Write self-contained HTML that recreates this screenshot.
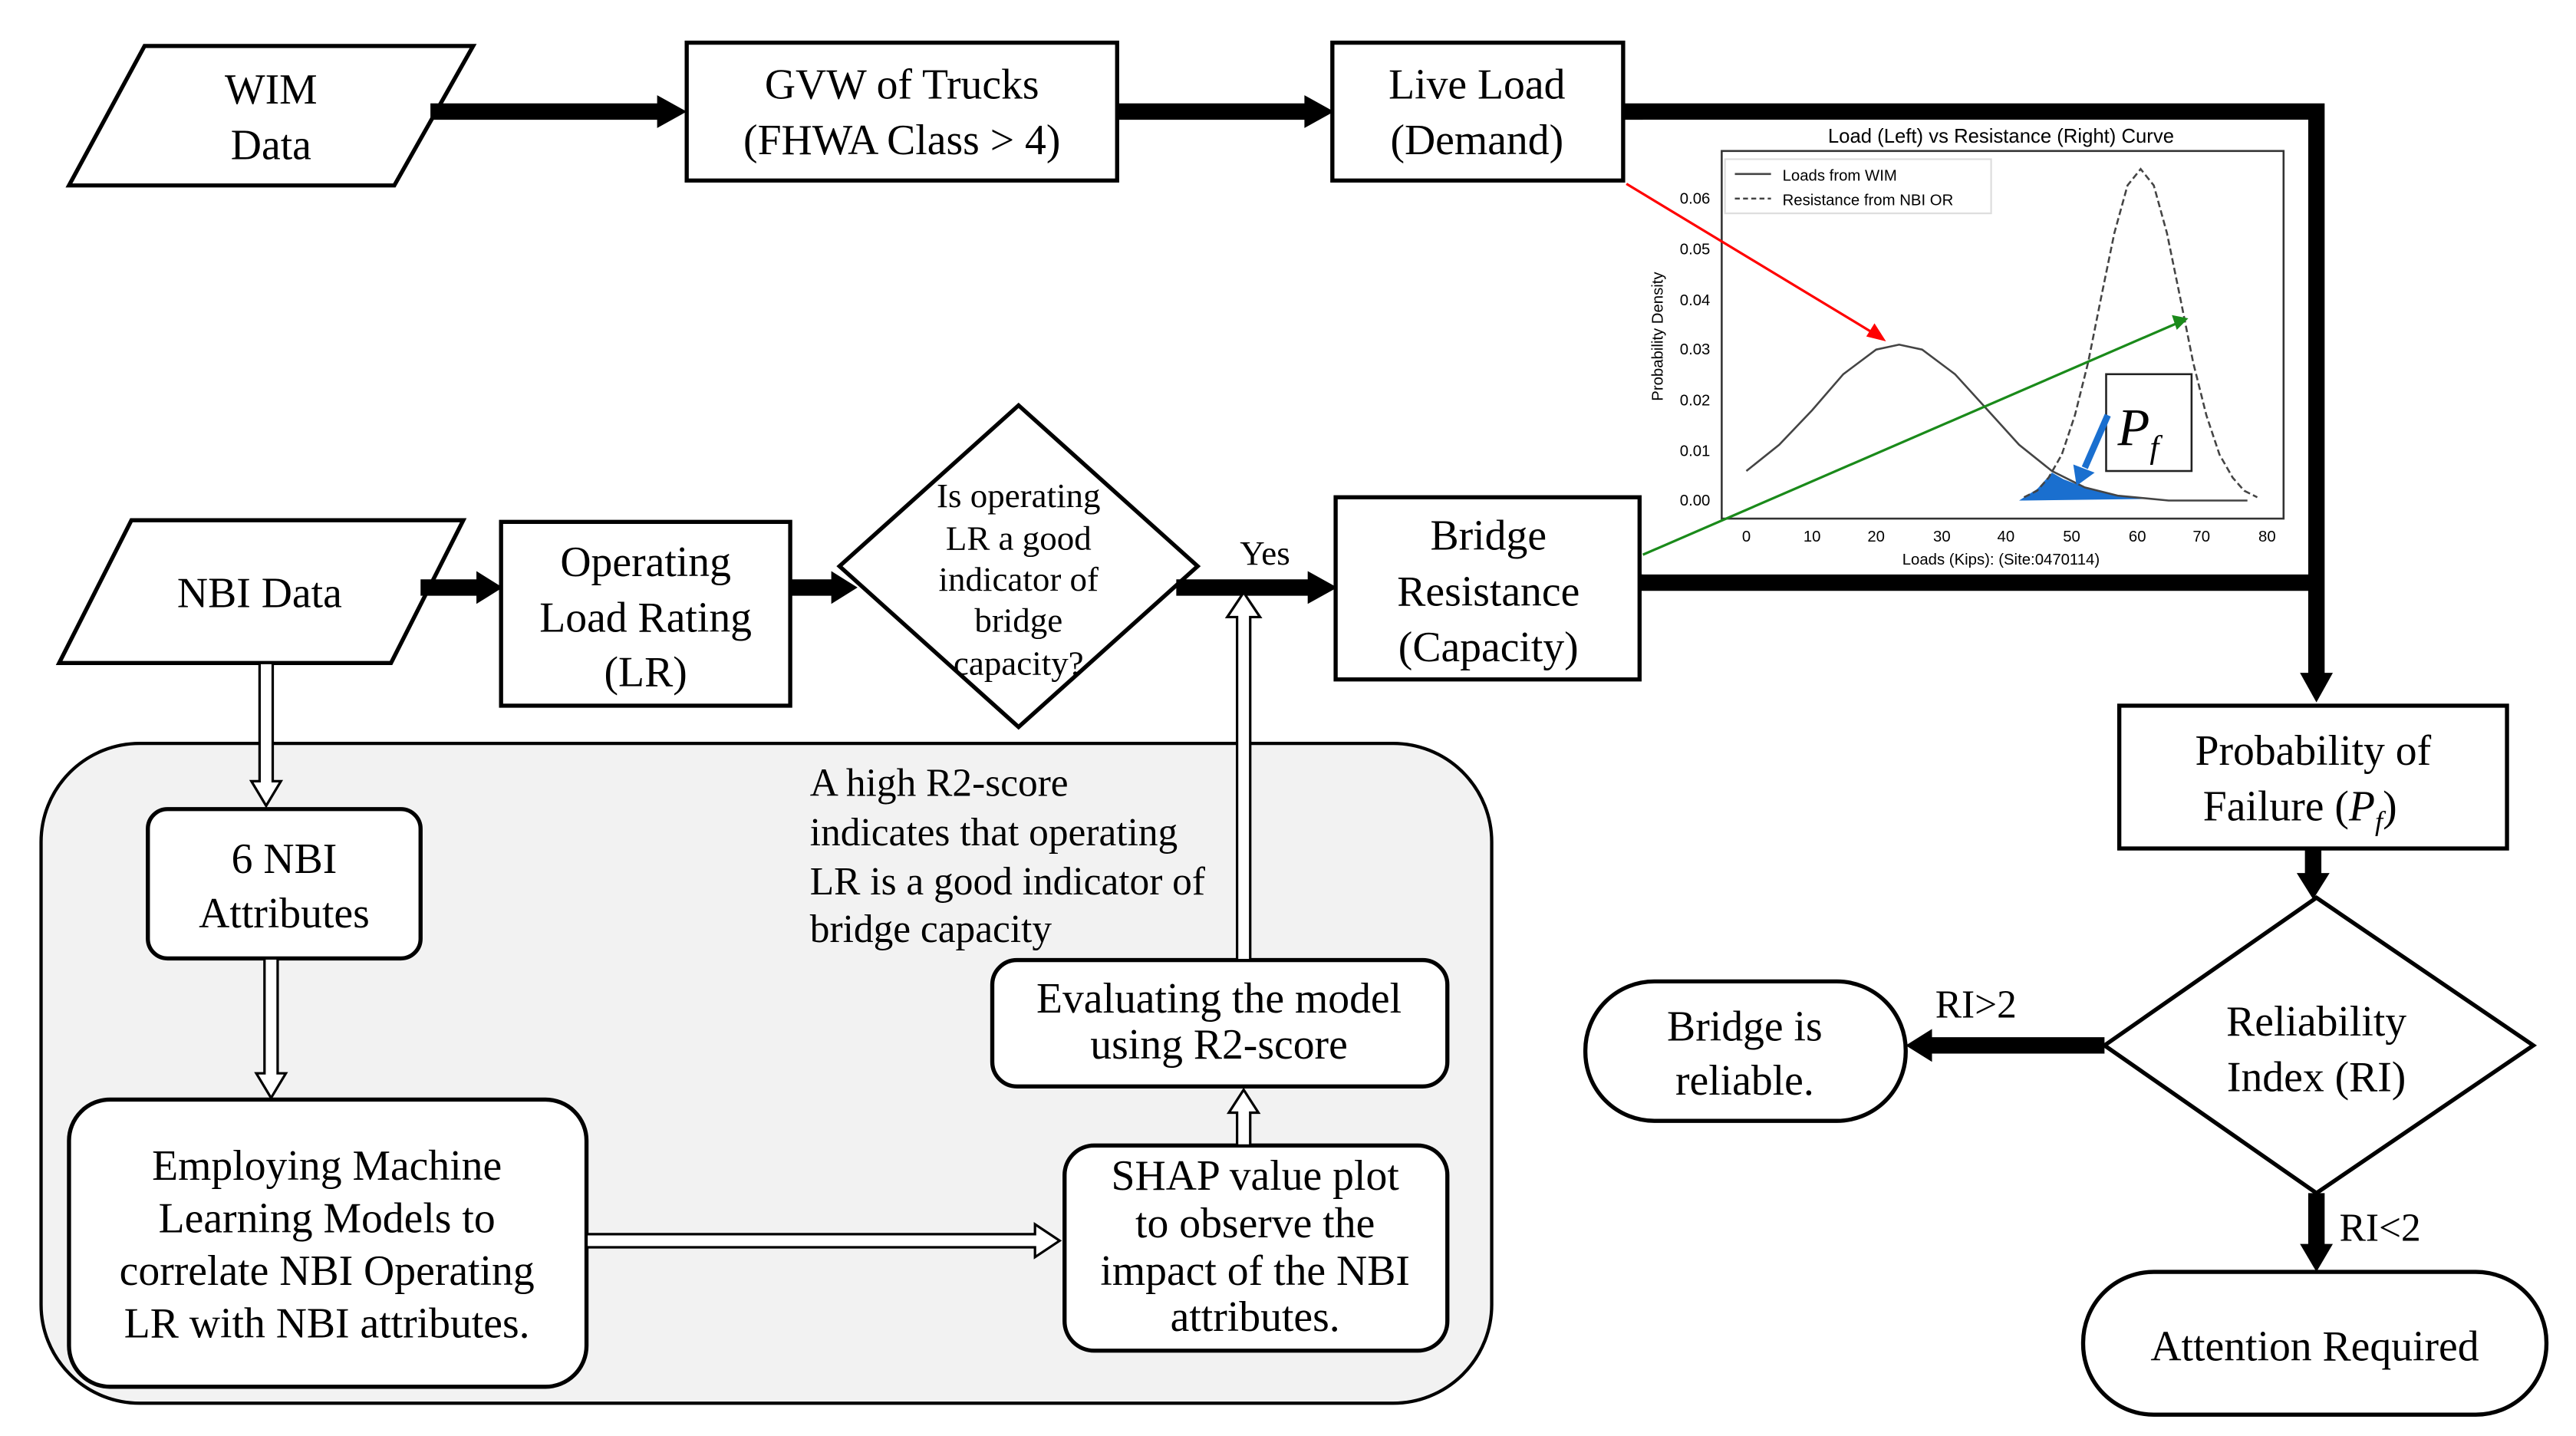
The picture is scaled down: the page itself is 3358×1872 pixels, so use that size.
<!DOCTYPE html>
<html><head><meta charset="utf-8"><style>html,body{margin:0;padding:0;background:#fff}svg{display:block}</style></head>
<body>
<svg width="3358" height="1872" viewBox="0 0 1568 875" preserveAspectRatio="none" xmlns="http://www.w3.org/2000/svg" font-family="'Liberation Serif', serif">
<rect width="1568" height="875" fill="#fff"/>
<!-- gray region -->
<rect x="25" y="453" width="883" height="402" rx="60" fill="#f2f2f2" stroke="#000" stroke-width="2"/>

<g fill="none" stroke="#000" stroke-width="2.5">
<polygon points="88,28 288,28 240,113 42,113" fill="#fff"/>
<rect x="418" y="26" width="262" height="84" fill="#fff"/>
<rect x="811" y="26" width="177" height="84" fill="#fff"/>
<polygon points="80,317 282,317 238,404 36,404" fill="#fff"/>
<rect x="305" y="318" width="176" height="112" fill="#fff"/>
<polygon points="620,247 729,345 620,443 511,345" fill="#fff"/>
<rect x="813" y="303" width="185" height="111" fill="#fff"/>
<rect x="1290" y="430" width="236" height="87" fill="#fff"/>
<polygon points="1410,547 1542,637 1410,727 1281,637" fill="#fff"/>
<rect x="965" y="598" width="195" height="85" rx="42" fill="#fff"/>
<rect x="1268" y="775" width="282" height="87" rx="43" fill="#fff"/>
<rect x="90" y="493" width="166" height="91" rx="12" fill="#fff"/>
<rect x="42" y="670" width="315" height="175" rx="25" fill="#fff"/>
<rect x="648" y="698" width="233" height="125" rx="18" fill="#fff"/>
<rect x="604" y="585" width="277" height="77" rx="15" fill="#fff"/>
</g>

<!-- thick connectors -->
<g stroke="#000" stroke-width="10" fill="none">
<line x1="262" y1="68" x2="402" y2="68"/>
<line x1="680" y1="68" x2="796" y2="68"/>
<polyline points="988,68 1410,68 1410,412"/>
<line x1="998" y1="355" x2="1410" y2="355"/>
<line x1="256" y1="358" x2="292" y2="358"/>
<line x1="481" y1="358" x2="508" y2="358"/>
<line x1="716" y1="358" x2="798" y2="358"/>
<line x1="1408" y1="517" x2="1408" y2="536"/>
<line x1="1281" y1="637" x2="1173" y2="637"/>
<line x1="1410" y1="727" x2="1410" y2="762"/>
</g>
<g fill="#000">
<polygon points="400,58 418,68 400,78"/>
<polygon points="794,58 812,68 794,78"/>
<polygon points="1400,410 1410,428 1420,410"/>
<polygon points="290,348 306,358 290,368"/>
<polygon points="506,348 522,358 506,368"/>
<polygon points="796,348 814,358 796,368"/>
<polygon points="1398,532 1408,548 1418,532"/>
<polygon points="1176,627 1160,637 1176,647"/>
<polygon points="1400,758 1410,775 1420,758"/>
</g>

<!-- hollow arrows -->
<g fill="#fff" stroke="#000" stroke-width="1.5">
<polygon points="158,404 166,404 166,476 171,476 162,491 153,476 158,476"/>
<polygon points="161,584 169,584 169,654 174,654 165,669 156,654 161,654"/>
<polygon points="357,752 630,752 630,746 645,756 630,766 630,760 357,760"/>
<polygon points="753,698 761,698 761,678 766,678 757,664 748,678 753,678"/>
<polygon points="753,585 761,585 761,376 767,376 757,361 747,376 753,376"/>
</g>

<!-- main text -->
<g font-size="26" text-anchor="middle" fill="#000">
<text x="165" y="63">WIM</text><text x="165" y="97">Data</text>
<text x="549" y="60">GVW of Trucks</text><text x="549" y="94">(FHWA Class &gt; 4)</text>
<text x="899" y="60">Live Load</text><text x="899" y="94">(Demand)</text>
<text x="158" y="370">NBI Data</text>
<text x="393" y="351">Operating</text><text x="393" y="385">Load Rating</text><text x="393" y="418">(LR)</text>
<text x="906" y="335">Bridge</text><text x="906" y="369">Resistance</text><text x="906" y="403">(Capacity)</text>
<text x="1408" y="466">Probability of</text><text x="1400" y="500">Failure (<tspan font-style="italic">P<tspan font-size="17" dy="6">f</tspan></tspan><tspan dy="-6">)</tspan></text>
<text x="1410" y="631">Reliability</text><text x="1410" y="665">Index (RI)</text>
<text x="1062" y="634">Bridge is</text><text x="1062" y="667">reliable.</text>
<text x="1409" y="829">Attention Required</text>
<text x="173" y="532">6 NBI</text><text x="173" y="565">Attributes</text>
<text x="199" y="719">Employing Machine</text><text x="199" y="751">Learning Models to</text><text x="199" y="783">correlate NBI Operating</text><text x="199" y="815">LR with NBI attributes.</text>
<text x="764" y="725">SHAP value plot</text><text x="764" y="754">to observe the</text><text x="764" y="783">impact of the NBI</text><text x="764" y="811">attributes.</text>
<text x="742" y="617">Evaluating the model</text><text x="742" y="645">using R2-score</text>
</g>
<g font-size="21" text-anchor="middle">
<text x="620" y="309">Is operating</text><text x="620" y="335">LR a good</text><text x="620" y="360">indicator of</text><text x="620" y="385">bridge</text><text x="620" y="411">capacity?</text>
<text x="770" y="344">Yes</text>
</g>
<g font-size="24">
<text x="1178" y="620">RI&gt;2</text>
<text x="1424" y="756">RI&lt;2</text>
<text x="493" y="485">A high R2-score</text><text x="493" y="515">indicates that operating</text><text x="493" y="545">LR is a good indicator of</text><text x="493" y="574">bridge capacity</text>
</g>

<!-- chart -->
<rect x="1000" y="73" width="405" height="277" fill="#fff"/>
<g font-family="'Liberation Sans', sans-serif">
<text x="1218" y="87" font-size="12" text-anchor="middle">Load (Left) vs Resistance (Right) Curve</text>
<rect x="1048" y="92" width="342" height="224" fill="none" stroke="#333" stroke-width="1.2"/>
<rect x="1050" y="97" width="162" height="33" fill="#fff" stroke="#ddd" stroke-width="1"/>
<line x1="1056" y1="106" x2="1078" y2="106" stroke="#444" stroke-width="1.2"/>
<line x1="1056" y1="121" x2="1078" y2="121" stroke="#444" stroke-width="1.2" stroke-dasharray="3,2"/>
<text x="1085" y="110" font-size="9.5">Loads from WIM</text>
<text x="1085" y="125" font-size="9.5">Resistance from NBI OR</text>
<g font-size="9.5" text-anchor="end">
<text x="1041" y="124">0.06</text><text x="1041" y="155">0.05</text><text x="1041" y="186">0.04</text><text x="1041" y="216">0.03</text><text x="1041" y="247">0.02</text><text x="1041" y="278">0.01</text><text x="1041" y="308">0.00</text>
</g>
<g font-size="9.5" text-anchor="middle">
<text x="1063" y="330">0</text><text x="1103" y="330">10</text><text x="1142" y="330">20</text><text x="1182" y="330">30</text><text x="1221" y="330">40</text><text x="1261" y="330">50</text><text x="1301" y="330">60</text><text x="1340" y="330">70</text><text x="1380" y="330">80</text>
<text x="1218" y="344">Loads (Kips): (Site:0470114)</text>
<text x="0" y="0" transform="translate(1012,205) rotate(-90)">Probability Density</text>
</g>
</g>
<path d="M1229,305 L1240,298 L1249,288 L1256,292 L1269,297 L1289,302 L1310,304 L1232,305 Z" fill="#1a6fcf"/>
<polyline fill="none" stroke="#444" stroke-width="1.2" points="1063,287 1083,271 1103,250 1122,228 1142,213 1156,210 1170,213 1190,228 1210,250 1229,271 1249,287 1269,297 1289,302 1320,305 1368,305"/>
<polyline fill="none" stroke="#444" stroke-width="1.2" stroke-dasharray="4,2" points="1232,303 1240,299 1247,291 1255,277 1263,253 1271,221 1279,181 1287,142 1295,113 1303,103 1311,113 1319,142 1327,181 1335,221 1343,253 1351,277 1359,291 1366,299 1374,303"/>
<rect x="1282" y="228" width="52" height="59" fill="none" stroke="#222" stroke-width="1.2"/>
<text x="1289" y="271" font-size="32" font-style="italic">P<tspan font-size="20" dy="8">f</tspan></text>
<line x1="990" y1="112" x2="1142" y2="204" stroke="#f00" stroke-width="1.5"/>
<polygon points="1148,208 1136,205 1141,197" fill="#f00"/>
<line x1="1000" y1="338" x2="1325" y2="197" stroke="#1a8a1a" stroke-width="1.5"/>
<polygon points="1332,194 1322,192 1325,201" fill="#1a8a1a"/>
<line x1="1283" y1="253" x2="1269" y2="285" stroke="#1a6fcf" stroke-width="4"/>
<polygon points="1264,296 1262,283 1275,288" fill="#1a6fcf"/>
</svg>
</body></html>
